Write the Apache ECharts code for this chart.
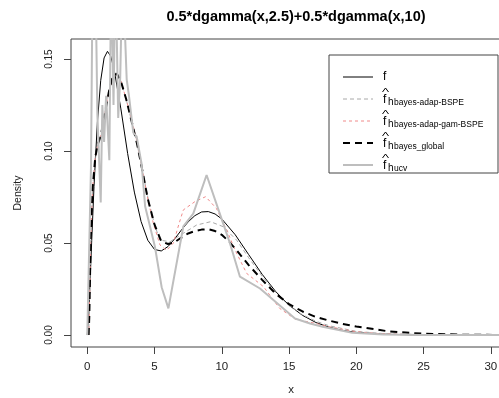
<!DOCTYPE html>
<html><head><meta charset="utf-8">
<script src="https://cdn.jsdelivr.net/npm/echarts@6/dist/echarts.min.js"></script>
<style>html,body{margin:0;padding:0;background:#fff}#c{width:499px;height:398px}</style>
</head><body><div id="c"></div>
<script>
const titleText = '0.5*dgamma(x,2.5)+0.5*dgamma(x,10)';
const xTicks = [0, 5, 10, 15, 20, 25, 30];
const yTicks = [0, 0.05, 0.10, 0.15];

// true density f
const xF = [0,0.1,0.2,0.33,0.5,0.75,1,1.25,1.5,1.75,2,2.5,3,3.5,4,4.5,5,5.5,6,6.5,7,7.5,8,8.5,9,9.5,10,11,12,13,14,15,16,17,18,19,20,22,24,26,28,31.5];
const yF = [0,0.0108,0.0275,0.0513,0.0807,0.1154,0.1384,0.1506,0.1542,0.1514,0.1441,0.1229,0.0987,0.0777,0.0617,0.0515,0.0465,0.0457,0.0481,0.0523,0.0571,0.0615,0.0649,0.0669,0.0671,0.0658,0.0631,0.0545,0.0437,0.033,0.0237,0.0162,0.0107,0.0068,0.0042,0.0025,0.00145,0.00046,0.00014,0.00004,0.00001,0];

// h bayes-adap-BSPE (grey dashed)
const xA = [0.1,0.15,0.25,0.4,0.6,0.8,1.0,1.3,1.6,1.9,2.2,2.5,2.9,3.3,3.7,4.0,4.5,5.0,5.4,6.15,7.14,8.13,9.17,10.1,11.1,12,13,14,15,16,17,18,20,22,25,31.5];
const yA = [0,0.01,0.05,0.08,0.097,0.104,0.108,0.12,0.132,0.141,0.142,0.138,0.128,0.116,0.104,0.093,0.075,0.06,0.0516,0.0507,0.0553,0.0598,0.0616,0.0589,0.0516,0.042,0.032,0.023,0.016,0.011,0.0075,0.005,0.002,0.0008,0.0002,0];

// h bayes-adap-gam-BSPE (pink dotted)
const xP = [0.1,0.15,0.25,0.4,0.6,0.8,1.0,1.3,1.6,1.9,2.2,2.5,2.9,3.3,3.7,4.0,4.5,4.9,5.4,5.9,6.4,6.8,7.14,8.0,8.8,9.6,10.37,11.0,11.85,13.1,14.3,15.5,17,18,20,22,25,31.5];
const yP = [0,0.01,0.05,0.08,0.097,0.104,0.108,0.12,0.132,0.14,0.141,0.138,0.128,0.117,0.105,0.094,0.074,0.061,0.049,0.046,0.05,0.06,0.068,0.0725,0.0752,0.0688,0.057,0.046,0.0335,0.0263,0.0145,0.0085,0.0063,0.0045,0.0018,0.0006,0.0001,0];

// h bayes_global (black thick dashed)
const xG = [0.1,0.15,0.25,0.4,0.6,0.8,1.0,1.3,1.6,1.9,2.2,2.5,2.9,3.3,3.7,4.0,4.5,5.0,5.5,6,6.5,7,7.5,8,8.5,9,9.5,10,10.5,11,12,13,14,15,16,17,18,19,20,22.5,25,28,31.5];
const yG = [0,0.01,0.05,0.08,0.097,0.104,0.108,0.12,0.132,0.141,0.142,0.138,0.128,0.116,0.104,0.093,0.074,0.06,0.051,0.0495,0.0505,0.053,0.0552,0.0565,0.0573,0.0575,0.0565,0.0545,0.051,0.047,0.038,0.030,0.0225,0.0168,0.0128,0.0098,0.0078,0.006,0.0046,0.0019,0.0007,0.0002,0];

// h ucv (grey thick)
const xU = [0,0.12,0.28,0.4,0.6,0.75,1.0,1.12,1.25,1.4,1.64,1.78,1.95,2.1,2.3,2.45,2.62,2.75,2.93,3.1,3.42,3.67,4.04,4.3,5.03,5.53,6.03,7.14,7.88,8.87,10.1,10.6,11.35,12.84,15.44,16.56,17.5,19.7,22,25,31.5];
const yU = [0,0,0.093,0.2,0.2,0.12,0.072,0.125,0.105,0.13,0.095,0.2,0.125,0.2,0.118,0.14,0.2,0.2,0.139,0.13,0.11,0.108,0.093,0.07,0.048,0.026,0.0145,0.059,0.066,0.087,0.0607,0.05,0.0317,0.0253,0.009,0.0063,0.0045,0.0013,0.0003,0,0];

const legendSubs = ['', 'bayes-adap-BSPE', 'bayes-adap-gam-BSPE', 'bayes_global', 'ucv'];

const FONT = '"Liberation Sans", Arial, Helvetica, sans-serif';
const AX = '#444';
const zip = (xs, ys) => xs.map((x, i) => [x, ys[i]]);

const styles = [
  {color: '#000000', width: 1, type: 'solid'},
  {color: '#a8a8a8', width: 1, type: [4, 3]},
  {color: '#f08a8a', width: 1, type: [3, 3]},
  {color: '#000000', width: 2, type: [7, 5]},
  {color: '#bebebe', width: 2, type: 'solid'}
];
const seriesData = [zip(xF, yF), zip(xA, yA), zip(xP, yP), zip(xG, yG), zip(xU, yU)];
const names = ['f', 'f̂ h bayes-adap-BSPE', 'f̂ h bayes-adap-gam-BSPE', 'f̂ h bayes_global', 'f̂ h ucv'];
const order = [4, 0, 1, 2, 3];

const series = order.map(i => ({
  name: names[i], type: 'line', data: seriesData[i], showSymbol: false, symbol: 'none',
  smooth: false, clip: true, lineStyle: styles[i], z: 2 + i
}));

// legend drawn as graphic box
const graphic = [{type: 'rect', shape: {x: 329, y: 55, width: 169, height: 118}, style: {fill: '#fff', stroke: AX, lineWidth: 1}, z: 50}];
legendSubs.forEach((sub, i) => {
  const ry = 77 + i * 22;
  graphic.push({type: 'line', shape: {x1: 343, y1: ry, x2: 373, y2: ry},
    style: {stroke: styles[i].color, lineWidth: styles[i].width, lineDash: styles[i].type === 'solid' ? null : styles[i].type}, z: 51});
  if (i === 0) {
    graphic.push({type: 'text', x: 383, y: ry, style: {text: 'f', font: '12px ' + FONT, fill: '#000', verticalAlign: 'middle', align: 'left'}, z: 51});
  } else {
    graphic.push({type: 'text', x: 383, y: ry + 1, style: {text: 'f', font: '12px ' + FONT, fill: '#000', verticalAlign: 'middle', align: 'left'}, z: 51});
    graphic.push({type: 'polyline', shape: {points: [[382.5, ry - 7], [385.5, ry - 11], [388.5, ry - 7]]}, style: {stroke: '#000', lineWidth: 1, fill: null}, z: 51});
    graphic.push({type: 'text', x: 388, y: ry + 3.5, style: {text: 'h', font: '10px ' + FONT, fill: '#000', verticalAlign: 'middle', align: 'left'}, z: 51});
    graphic.push({type: 'text', x: 394, y: ry + 4, style: {text: sub, font: '8.5px ' + FONT, fill: '#000', verticalAlign: 'middle', align: 'left'}, z: 51});
  }
});

const chart = echarts.init(document.getElementById('c'), null, {renderer: 'canvas'});
chart.setOption({
  animation: false,
  backgroundColor: '#fff',
  title: {text: titleText, left: 291, top: 4, textAlign: 'center',
    textStyle: {fontFamily: FONT, fontWeight: 'bold', fontSize: 14.5, color: '#000'}},
  grid: {left: 71, top: 39, width: 440, height: 308, show: true, borderColor: AX, borderWidth: 1,
    backgroundColor: 'transparent', containLabel: false, outerBoundsMode: 'none'},
  xAxis: {type: 'value', min: -1.21, max: 31.5,
    axisLine: {show: false, onZero: false}, splitLine: {show: false},
    axisTick: {show: true, length: 7, customValues: xTicks, lineStyle: {color: AX}},
    axisLabel: {customValues: xTicks, margin: 14, fontSize: 11.5, color: '#222', fontFamily: FONT},
    name: 'x', nameLocation: 'middle', nameGap: 37,
    nameTextStyle: {fontFamily: FONT, fontSize: 11.5, color: '#222'}},
  yAxis: {type: 'value', min: -0.0065, max: 0.1609,
    axisLine: {show: false, onZero: false}, splitLine: {show: false},
    axisTick: {show: true, length: 7, customValues: yTicks, lineStyle: {color: AX}},
    axisLabel: {customValues: yTicks, margin: 17, rotate: 90, fontSize: 10, color: '#222', fontFamily: FONT,
      formatter: v => v.toFixed(2)},
    name: 'Density', nameLocation: 'middle', nameGap: 47, nameRotate: 90,
    nameTextStyle: {fontFamily: FONT, fontSize: 10.5, color: '#222'}},
  graphic: graphic,
  series: series
});
</script></body></html>
